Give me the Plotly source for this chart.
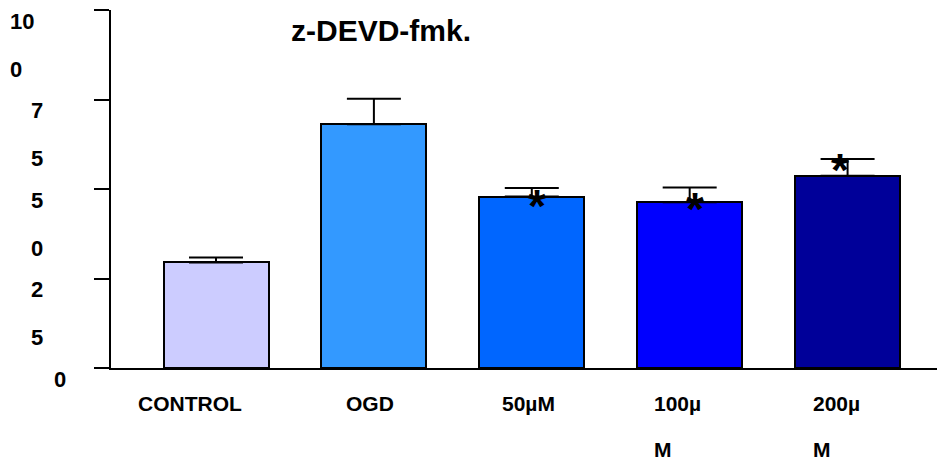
import plotly.graph_objects as go

# ---- data ----
categories = ["CONTROL", "OGD", "50µM", "100µM", "200µM"]
values = [29.5, 68.1, 47.9, 46.3, 53.7]
errors = [1.4, 7.1, 2.4, 4.1, 4.7]
significant = [False, False, True, True, True]
bar_colors = ["#CCCCFF", "#3399FF", "#0066FF", "#0000FF", "#000099"]
xlabel_lines = [["CONTROL"], ["OGD"], ["50µM"], ["100µ", "M"], ["200µ", "M"]]
ytick_vals = [0, 25, 50, 75, 100]
ytick_lines = [["0"], ["2", "5"], ["5", "0"], ["7", "5"], ["10", "0"]]
title_text = "z-DEVD-fmk."

# ---- layout constants (pixels, page coordinates) ----
OFF = 8  # browser default body margin
PAGE_W, PAGE_H = 945, 464
W, H = PAGE_W - OFF, PAGE_H - OFF
L, R, T, B = 111 - OFF, 0, 10 - OFF, PAGE_H - 368
PW = W - L - R
PH = H - T - B
FONT = "Liberation Sans"

def px_to_paper_x(px):
    return (px - OFF - L) / PW

def px_to_paper_y(py):
    return (H - B - (py - OFF)) / PH

fig = go.Figure()
fig.add_trace(go.Bar(
    x=list(range(len(categories))),
    y=values,
    marker=dict(color=bar_colors, line=dict(color="black", width=2)),
    width=0.665,
    error_y=dict(type="data", symmetric=False, array=errors,
                 arrayminus=[0] * len(errors), color="black",
                 thickness=2, width=27),
    hovertext=categories,
    showlegend=False,
))

annotations = []
# significance asterisks
ast_xshift = [0, 0, 5, 5, -8]
ast_yoff = [0, 0, -1.0, -0.3, 3.4]
for i, s in enumerate(significant):
    if s:
        annotations.append(dict(
            x=i, y=values[i] + ast_yoff[i], xref="x", yref="y",
            text="*", showarrow=False, xshift=ast_xshift[i], yshift=-6,
            font=dict(family=FONT, size=46, color="black", weight="bold"),
            xanchor="center", yanchor="middle"))

# x category labels
xl_shift = [-26, -4, -3, -38, -37]
xl_anchor = ["center", "center", "center", "left", "left"]
row_y = [403, 449]
for i, lines in enumerate(xlabel_lines):
    for j, line in enumerate(lines):
        annotations.append(dict(
            x=i, y=px_to_paper_y(row_y[j]), xref="x", yref="paper",
            text=line, showarrow=False, xshift=xl_shift[i],
            xanchor=xl_anchor[i], yanchor="middle",
            font=dict(family=FONT, size=21, color="black", weight="bold")))

# y tick labels (wrapped)
yl_left = [52, 29, 29, 29, 8]
for v, lines, lx in zip(ytick_vals, ytick_lines, yl_left):
    for j, line in enumerate(lines):
        annotations.append(dict(
            x=px_to_paper_x(lx), y=v, xref="paper", yref="y",
            text=line, showarrow=False, yshift=-11 - 48 * j,
            xanchor="left", yanchor="middle",
            font=dict(family=FONT, size=22, color="black", weight="bold")))

# title
annotations.append(dict(
    x=px_to_paper_x(381), y=px_to_paper_y(31), xref="paper", yref="paper",
    text=title_text, showarrow=False, xanchor="center", yanchor="middle",
    font=dict(family=FONT, size=30, color="black", weight="bold")))

fig.update_layout(
    width=W, height=H,
    margin=dict(l=L, r=R, t=T, b=B, pad=0),
    plot_bgcolor="white", paper_bgcolor="white",
    annotations=annotations,
    bargap=0,
)
fig.update_xaxes(range=[-0.665, 4.617], showgrid=False, zeroline=False,
                 showticklabels=False, ticks="", showline=True,
                 linecolor="black", linewidth=2)
fig.update_yaxes(range=[0, 100], tickvals=ytick_vals, showticklabels=False,
                 ticks="outside", ticklen=15, tickwidth=2, tickcolor="black",
                 showgrid=False, zeroline=False, showline=True,
                 linecolor="black", linewidth=2)

fig.write_html("out.html")
